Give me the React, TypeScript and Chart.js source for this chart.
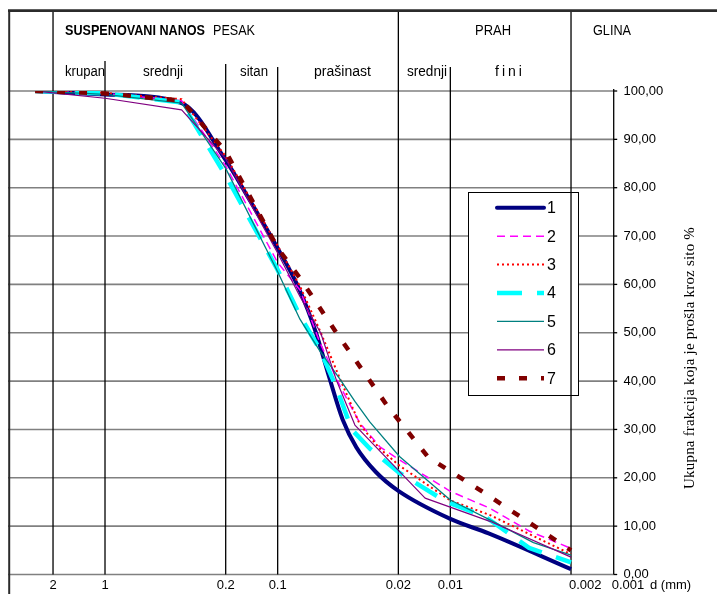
import React, { useEffect, useRef } from "react";
import { Chart, registerables } from "chart.js";

Chart.register(...registerables);

const WIDTH = 717;
const HEIGHT = 594;

// Grain diameter (mm) and cumulative percent passing for each sample
const dia1 = [2.54, 1, 0.36, 0.2, 0.15, 0.1, 0.075, 0.06, 0.05, 0.042, 0.035, 0.027, 0.02, 0.01, 0.006, 0.002];
const pct1 = [100, 99.3, 97.5, 85.7, 78.3, 67.5, 59, 50, 40.5, 32, 26.3, 21.2, 17.3, 11.5, 8.5, 1.1];

const dia2 = [2.54, 1, 0.36, 0.2, 0.1, 0.074, 0.057, 0.0436, 0.0334, 0.0256, 0.0197, 0.01, 0.0059, 0.0035, 0.002];
const pct2 = [100, 99.5, 98, 84.5, 64.5, 58.8, 48, 39, 31.3, 26.4, 23.7, 17.2, 13.7, 9, 5.4];

const dia3 = [2.54, 1, 0.36, 0.2, 0.1, 0.074, 0.057, 0.0436, 0.0334, 0.0256, 0.0197, 0.01, 0.0059, 0.002];
const pct3 = [100, 99.6, 98.3, 86.5, 68, 59.5, 50.5, 40.5, 31, 26, 22.5, 15.3, 12.3, 4.2];

const dia4 = [2.54, 1, 0.36, 0.2, 0.1, 0.0743, 0.0569, 0.0455, 0.0373, 0.0292, 0.0197, 0.0105, 0.0063, 0.0035, 0.002];
const pct4 = [100, 99.5, 97.6, 82.5, 63, 53.5, 46.5, 38.5, 30, 26, 21, 15, 12, 5.5, 2.5];

const dia5 = [2.54, 1, 0.36, 0.2, 0.1, 0.0743, 0.0569, 0.0436, 0.0357, 0.0292, 0.0197, 0.01, 0.0059, 0.0033, 0.002];
const pct5 = [100, 99.3, 97.5, 84, 62.6, 52.8, 46.2, 40.4, 35.8, 31.5, 24.4, 15.4, 11.3, 6.6, 4];

const dia6 = [2.54, 2, 1, 0.36, 0.2, 0.1, 0.0743, 0.0564, 0.0455, 0.0357, 0.014, 0.0059, 0.002];
const pct6 = [100, 99.6, 98.5, 96.1, 86, 66.5, 57.5, 50, 40, 30.9, 15.8, 11, 3.6];

const dia7 = [2.54, 1, 0.36, 0.2, 0.1, 0.0743, 0.0455, 0.0232, 0.0134, 0.0063, 0.002];
const pct7 = [100, 99.5, 98, 87.5, 67.5, 61.3, 49.9, 34.9, 24.2, 16.8, 5];

const seriesNames = ["1", "2", "3", "4", "5", "6", "7"];
const seriesDia = [dia1, dia2, dia3, dia4, dia5, dia6, dia7];
const seriesPct = [pct1, pct2, pct3, pct4, pct5, pct6, pct7];

const yTickValues = [0, 10, 20, 30, 40, 50, 60, 70, 80, 90, 100];
const xTickValues = [2, 1, 0.2, 0.1, 0.02, 0.01, 0.002, 0.001];
const xTickLabels = ["2", "1", "0.2", "0.1", "0.02", "0.01", "0.002", "0.001"];
const xUnitLabel = "d (mm)";
const yTitle = "Ukupna frakcija koja je prošla kroz sito %";

// Fraction boundaries (mm) drawn as vertical dividers
const dividerValues = [2, 1, 0.2, 0.1, 0.02, 0.01, 0.002];

// Header captions
const headerBold = "SUSPENOVANI NANOS";
const headerMain = ["PESAK", "PRAH", "GLINA"];
const headerSub = ["krupan", "srednji", "sitan", "prašinast", "srednji", "fini"];

// ---- styling / layout ----
const X_MIN = 0.001132;
const X_MAX = 3.646;
const PLOT = { left: 8, top: 91, right: 613.7, bottom: 574.5 };
const dividerTops = [10, 61, 64, 67, 10, 67, 10];
const xTickAlign = ["center", "center", "center", "center", "center", "center", "left", "left"];
const headerMainPos = [
  { x: 213, w: 42 },
  { x: 475, w: 36 },
  { x: 593, w: 38 },
];
const headerSubPos = [
  { x: 65, w: 40 },
  { x: 143, w: 40 },
  { x: 240, w: 28 },
  { x: 314, w: 57 },
  { x: 407, w: 40 },
  { x: 495, w: 30 },
];
const LEGEND = { x: 468.5, y: 192.5, w: 110, h: 203, lineX0: 497, lineX1: 544, textX: 547, row0: 207.7, step: 28.43 };

const lineStyles = [
  { color: "#000080", width: 4, dash: [] as number[] },
  { color: "#FF00FF", width: 1.5, dash: [8, 5] },
  { color: "#FF0000", width: 2, dash: [2, 3] },
  { color: "#00FFFF", width: 4.5, dash: [25, 15] },
  { color: "#008080", width: 1.3, dash: [] as number[] },
  { color: "#800080", width: 1.2, dash: [] as number[] },
  { color: "#800000", width: 4.5, dash: [8, 14] },
];

const SANS = "Arial, 'Liberation Sans', sans-serif";
const SERIF = "'Times New Roman', 'Liberation Serif', serif";

// Draws text squeezed or spread to a given width, starting at x
function fitText(ctx: CanvasRenderingContext2D, text: string, x: number, y: number, width: number) {
  const c = ctx as any;
  c.letterSpacing = "0px";
  const w = ctx.measureText(text).width;
  if (w > width) {
    ctx.fillText(text, x, y, width);
  } else {
    const n = Array.from(text).length;
    c.letterSpacing = (width - w) / Math.max(1, n) + "px";
    ctx.fillText(text, x, y);
    c.letterSpacing = "0px";
  }
}

const sheetPlugin = {
  id: "sheet",
  beforeDraw(chart: any) {
    const ctx: CanvasRenderingContext2D = chart.ctx;
    ctx.save();
    ctx.fillStyle = "#ffffff";
    ctx.fillRect(0, 0, chart.width, chart.height);
    ctx.restore();
  },
  beforeDatasetsDraw(chart: any) {
    const ctx: CanvasRenderingContext2D = chart.ctx;
    const a = chart.chartArea;
    const x = chart.scales.x;
    const y = chart.scales.y;
    ctx.save();

    // horizontal grid
    ctx.strokeStyle = "#808080";
    ctx.lineWidth = 1.6;
    yTickValues.forEach((v) => {
      const py = y.getPixelForValue(v);
      ctx.beginPath();
      ctx.moveTo(a.left, py);
      ctx.lineTo(a.right, py);
      ctx.stroke();
    });

    // legend panel
    ctx.fillStyle = "#ffffff";
    ctx.fillRect(LEGEND.x, LEGEND.y, LEGEND.w, LEGEND.h);
    ctx.strokeStyle = "#000000";
    ctx.lineWidth = 1;
    ctx.strokeRect(LEGEND.x, LEGEND.y, LEGEND.w, LEGEND.h);

    // fraction dividers
    ctx.strokeStyle = "#000000";
    ctx.lineWidth = 1.3;
    dividerValues.forEach((v, i) => {
      const px = x.getPixelForValue(v);
      ctx.beginPath();
      ctx.moveTo(px, dividerTops[i]);
      ctx.lineTo(px, a.bottom);
      ctx.stroke();
    });

    // right value axis with ticks
    ctx.lineWidth = 1.3;
    ctx.beginPath();
    ctx.moveTo(a.right, y.getPixelForValue(100) - 2);
    ctx.lineTo(a.right, a.bottom);
    ctx.stroke();
    yTickValues.forEach((v) => {
      const py = y.getPixelForValue(v);
      ctx.beginPath();
      ctx.moveTo(a.right, py);
      ctx.lineTo(a.right + 3.5, py);
      ctx.stroke();
    });

    // outer frame
    ctx.strokeStyle = "#2b2b2b";
    ctx.lineWidth = 2.6;
    ctx.beginPath();
    ctx.moveTo(8, 10.6);
    ctx.lineTo(WIDTH, 10.6);
    ctx.stroke();
    ctx.lineWidth = 2;
    ctx.beginPath();
    ctx.moveTo(9.2, 10);
    ctx.lineTo(9.2, HEIGHT);
    ctx.stroke();

    ctx.restore();
  },
  afterDatasetsDraw(chart: any) {
    const ctx: CanvasRenderingContext2D = chart.ctx;
    const a = chart.chartArea;
    const x = chart.scales.x;
    const y = chart.scales.y;
    ctx.save();
    ctx.fillStyle = "#000000";

    // value labels
    ctx.font = `13px ${SANS}`;
    ctx.textAlign = "left";
    ctx.textBaseline = "middle";
    yTickValues.forEach((v) => {
      ctx.fillText(v.toFixed(2).replace(".", ","), 623.5, y.getPixelForValue(v));
    });

    // diameter labels
    xTickValues.forEach((v, i) => {
      const px = Math.min(x.getPixelForValue(v), a.right);
      ctx.textAlign = xTickAlign[i] as CanvasTextAlign;
      ctx.fillText(xTickLabels[i], xTickAlign[i] === "left" ? px - 2 : px, 585);
    });
    ctx.textAlign = "left";
    ctx.fillText(xUnitLabel, 650, 585);

    // header captions
    ctx.textBaseline = "alphabetic";
    ctx.font = `bold 14px ${SANS}`;
    fitText(ctx, headerBold, 65, 35, 140);
    ctx.font = `14px ${SANS}`;
    headerMain.forEach((t, i) => fitText(ctx, t, headerMainPos[i].x, 35, headerMainPos[i].w));
    headerSub.forEach((t, i) => fitText(ctx, t, headerSubPos[i].x, 76, headerSubPos[i].w));

    // rotated value-axis title
    ctx.save();
    ctx.translate(690, 358);
    ctx.rotate(-Math.PI / 2);
    ctx.font = `15px ${SERIF}`;
    ctx.textBaseline = "middle";
    ctx.textAlign = "left";
    fitText(ctx, yTitle, -131, 0, 262);
    ctx.restore();

    // legend entries
    ctx.font = `16px ${SANS}`;
    ctx.textBaseline = "middle";
    ctx.textAlign = "left";
    chart.data.datasets.forEach((ds: any, i: number) => {
      const ry = LEGEND.row0 + i * LEGEND.step;
      ctx.save();
      ctx.strokeStyle = ds.borderColor;
      ctx.lineWidth = ds.borderWidth;
      ctx.setLineDash(ds.borderDash || []);
      ctx.lineCap = i === 0 ? "round" : "butt";
      ctx.beginPath();
      ctx.moveTo(LEGEND.lineX0, ry);
      ctx.lineTo(LEGEND.lineX1, ry);
      ctx.stroke();
      ctx.restore();
      ctx.fillText(ds.label, LEGEND.textX, ry + 1);
    });

    ctx.restore();
  },
};

export default function App() {
  const canvasRef = useRef<HTMLCanvasElement>(null);

  useEffect(() => {
    const canvas = canvasRef.current;
    if (!canvas) return;
    const datasets = seriesNames.map((name, i) => ({
      label: name,
      data: seriesDia[i].map((d, k) => ({ x: d, y: seriesPct[i][k] })),
      borderColor: lineStyles[i].color,
      borderWidth: lineStyles[i].width,
      borderDash: lineStyles[i].dash,
      borderCapStyle: "butt" as const,
      borderJoinStyle: "round" as const,
      pointRadius: 0,
      pointHoverRadius: 0,
      fill: false,
      tension: 0,
      cubicInterpolationMode: i === 0 ? ("monotone" as const) : ("default" as const),
      order: seriesNames.length - i,
    }));

    const chart = new Chart(canvas, {
      type: "line",
      data: { datasets },
      options: {
        animation: false,
        responsive: false,
        devicePixelRatio: 1,
        events: [],
        layout: {
          padding: {
            left: PLOT.left,
            top: PLOT.top,
            right: WIDTH - PLOT.right,
            bottom: HEIGHT - PLOT.bottom,
          },
        },
        scales: {
          x: { type: "logarithmic", reverse: true, min: X_MIN, max: X_MAX, bounds: "data", display: false },
          y: { type: "linear", min: 0, max: 100, display: false },
        },
        plugins: {
          legend: { display: false },
          tooltip: { enabled: false },
          title: { display: false },
        },
      },
      plugins: [sheetPlugin],
    } as any);

    return () => chart.destroy();
  }, []);

  return (
    <div style={{ position: "absolute", left: 0, top: 0, width: WIDTH, height: HEIGHT }}>
      <canvas ref={canvasRef} width={WIDTH} height={HEIGHT} style={{ display: "block" }} />
    </div>
  );
}
